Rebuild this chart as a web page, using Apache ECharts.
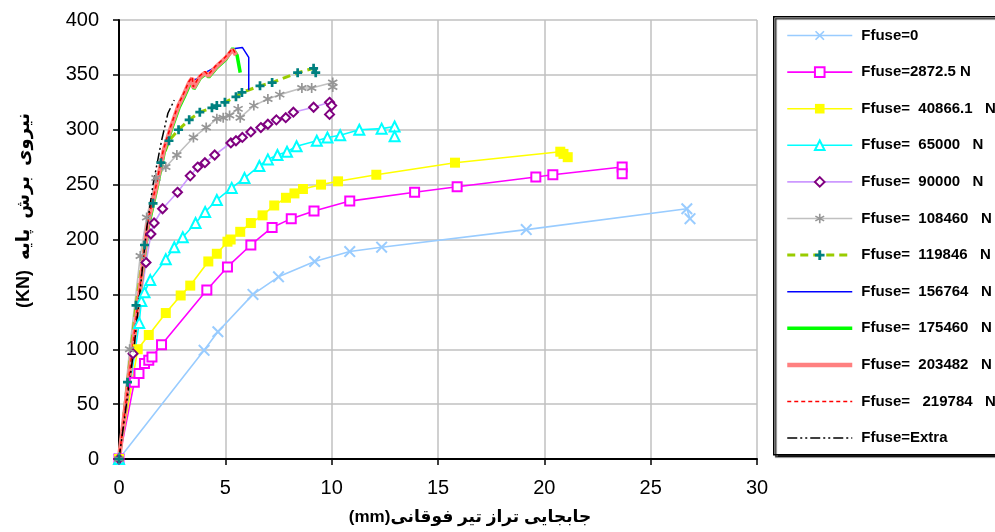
<!DOCTYPE html>
<html><head><meta charset="utf-8">
<script src="https://cdn.jsdelivr.net/npm/echarts@6/dist/echarts.min.js"></script>
<style>html,body{margin:0;padding:0;background:#fff}#c{width:995px;height:532px}</style>
</head><body><div id="c"></div>
<script>
// ---- data (x: displacement mm, y: base shear kN) ----
const seriesNames = ['Ffuse=0','Ffuse=2872.5 N','Ffuse=  40866.1   N','Ffuse=  65000   N','Ffuse=  90000   N','Ffuse=  108460   N','Ffuse=  119846   N','Ffuse=  156764   N','Ffuse=  175460   N','Ffuse=  203482   N','Ffuse=   219784   N','Ffuse=Extra'];
const xTicks = [0,5,10,15,20,25,30];
const yTicks = [0,50,100,150,200,250,300,350,400];
const xTitle = 'جابجایی تراز تیر فوقانی(mm)';
const yTitle = 'نیروی  برش  پایه  (KN)';

const fuse0 = [[0,0],[4.0,99],[4.65,116],[6.3,150],[7.5,166],[9.2,180],[10.85,189],[12.35,193],[19.15,209],[26.7,228],[26.85,219]];
const fuse2872 = [[0,0],[0.72,70],[0.94,78],[1.2,87],[1.4,90],[1.55,93],[2.0,104],[4.13,154],[5.1,175],[6.2,195],[7.2,211],[8.1,219],[9.17,226],[10.85,235],[13.9,243],[15.9,248],[19.6,257],[20.4,259],[23.66,266],[23.66,260]];
const fuse40866 = [[0,0],[0.88,100],[1.4,113],[2.2,133],[2.9,149],[3.35,158],[4.2,180],[4.6,187],[5.1,198],[5.25,200],[5.7,207],[6.2,215],[6.75,222],[7.3,231],[7.85,238],[8.25,242],[8.65,246],[9.5,250],[10.3,253],[12.1,259],[15.8,270],[20.75,280],[20.9,278],[21.1,275]];
const fuse65000 = [[0,0],[0.95,124],[1.05,144],[1.2,152],[1.47,163],[2.2,182],[2.6,193],[3.0,202],[3.6,215],[4.05,225],[4.6,236],[5.3,247],[5.9,256],[6.6,267],[7.0,273],[7.45,277],[7.9,280],[8.35,285],[9.3,290],[9.8,293],[10.4,295],[11.3,300],[12.35,301],[12.96,303],[12.96,294]];
const fuse90000 = [[0,0],[0.66,96],[1.27,179],[1.5,205],[1.65,215],[2.05,228],[2.75,243],[3.35,258],[3.7,266],[4.04,270],[4.5,277],[5.26,288],[5.5,290],[5.8,293],[6.2,298],[6.67,302],[7.0,305],[7.4,309],[7.84,311],[8.2,316],[9.15,320.5],[9.9,325],[10.0,322],[9.9,314]];
const fuse108460 = [[0,0],[0.5,100],[1.0,185],[1.3,220],[1.74,256],[2.2,266],[2.72,277],[3.5,293],[4.1,302],[4.6,310],[4.9,311],[5.2,313],[5.6,319],[5.7,311],[6.34,322],[7.0,328],[7.56,332],[8.6,338],[9.06,338],[10.05,343],[10.05,339]];
const fuse119846 = [[0,0],[0.4,70],[0.8,140],[1.2,195],[1.6,233],[1.97,270],[2.35,290],[2.8,300],[3.3,309],[3.8,316],[4.37,320],[4.6,322],[4.98,325],[5.5,330],[5.78,334],[6.63,340],[7.2,343],[8.4,352],[9.15,356],[9.25,352]];
const fuse156764 = [[0,0],[0.7,110],[1.36,215],[1.74,247],[2.1,281],[2.44,302],[2.8,322],[3.05,332],[3.3,343],[3.8,348],[4.05,352],[4.55,357],[5.0,365],[5.45,374],[5.8,375],[6.1,366],[6.1,336]];
const fuse175460 = [[0,0],[0.7,108],[1.38,212],[1.76,245],[2.12,279],[2.46,300],[2.82,320],[3.07,330],[3.32,341],[3.47,346],[3.52,337],[3.82,347],[4.07,351],[4.22,348],[4.57,356],[5.02,364],[5.35,374],[5.55,368],[5.7,352]];
const fuse203482 = [[0,0],[0.7,110],[1.36,215],[1.74,247],[2.1,281],[2.44,302],[2.8,322],[3.05,332],[3.3,343],[3.45,347],[3.5,338],[3.8,348],[4.05,352],[4.2,349],[4.55,357],[5.0,365],[5.35,373],[5.5,368]];
const fuse219784 = [[0,0],[0.7,111],[1.35,216],[1.73,248],[2.09,282],[2.43,303],[2.79,323],[3.04,333],[3.29,344],[3.44,348],[3.49,339],[3.79,349],[4.04,353],[4.19,350],[4.54,358],[4.99,366],[5.34,374],[5.5,369]];
const fuseExtra = [[0,0],[0.7,100],[1.3,210],[1.6,250],[2.0,290],[2.3,315],[2.6,327]];

// ---- marker shapes ----
const crossPath = 'path://M0,1.2L1.2,0L5,3.8L8.8,0L10,1.2L6.2,5L10,8.8L8.8,10L5,6.2L1.2,10L0,8.8L3.8,5Z';
const starPath = 'path://M4.2,0L5.8,0L5.8,10L4.2,10Z M0.3,3.2L1.1,1.8L9.7,6.8L8.9,8.2Z M1.1,8.2L0.3,6.8L8.9,1.8L9.7,3.2Z';
const plusPath = 'path://M3.5,0H6.5V3.5H10V6.5H6.5V10H3.5V6.5H0V3.5H3.5Z';

function mk(name, data, lineColor, width, type, symbol, symSize, markColor, border) {
  return {
    name: name, type: 'line', data: data, smooth: false,
    symbol: symbol || 'none', symbolSize: symSize || 0,
    lineStyle: {color: lineColor, width: width, type: type || 'solid'},
    itemStyle: {color: markColor || lineColor, borderColor: markColor || lineColor, borderWidth: border || 0},
    emphasis: {disabled: true}
  };
}

const seriesList = [
  mk(seriesNames[0], fuse0, '#99ccff', 1.6, 'solid', crossPath, 12, '#99ccff'),
  mk(seriesNames[1], fuse2872, '#ff00ff', 1.6, 'solid', 'emptyRect', 9, '#ff00ff', 1.5),
  mk(seriesNames[2], fuse40866, '#ffff00', 1.6, 'solid', 'rect', 10, '#ffff00'),
  mk(seriesNames[3], fuse65000, '#00ffff', 1.6, 'solid', 'emptyTriangle', 10, '#00ffff', 1.5),
  mk(seriesNames[4], fuse90000, '#cc99ff', 1.6, 'solid', 'emptyDiamond', 9, '#800080', 1.8),
  mk(seriesNames[5], fuse108460, '#c0c0c0', 1.6, 'solid', starPath, 10, '#969696'),
  mk(seriesNames[6], fuse119846, '#99cc00', 3, [8, 5], plusPath, 9, '#008080'),
  mk(seriesNames[7], fuse156764, '#0000ff', 1.5, 'solid'),
  mk(seriesNames[8], fuse175460, '#00ff00', 3.5, 'solid'),
  mk(seriesNames[9], fuse203482, '#ff8080', 4.5, 'solid'),
  mk(seriesNames[10], fuse219784, '#ff0000', 1.5, [4, 3]),
  mk(seriesNames[11], fuseExtra, '#000000', 1.5, [10, 3, 2, 3, 2, 3])
];

const legendData = seriesList.map(s => {
  const item = {name: s.name, lineStyle: {width: s.lineStyle.width, type: s.lineStyle.type, color: s.lineStyle.color}};
  if (s.symbol === 'none') item.itemStyle = {opacity: 0, color: 'rgba(0,0,0,0)', borderWidth: 0};
  return item;
});

const chart = echarts.init(document.getElementById('c'), null, {renderer: 'canvas'});
const option = {
  animation: false,
  backgroundColor: '#fff',
  grid: {left: 119, right: 238, top: 20, bottom: 73},
  xAxis: {
    type: 'value', min: 0, max: 30, interval: 5,
    name: '\u202B' + xTitle + '\u202C', nameLocation: 'middle', nameGap: 50,
    nameTextStyle: {fontFamily: 'Liberation Sans, DejaVu Sans', fontWeight: 'bold', fontSize: 17, color: '#000', padding: [0, 0, 0, 64]},
    axisLine: {lineStyle: {color: '#000', width: 2}},
    axisTick: {show: true, inside: false, length: 6, lineStyle: {color: '#000', width: 1.5}},
    axisLabel: {color: '#000', fontFamily: 'Liberation Sans', fontSize: 20, margin: 19, formatter: v => xTicks.includes(v) ? String(v) : ''},
    splitLine: {show: true, lineStyle: {color: '#c0c0c0', width: 1.5}}
  },
  yAxis: {
    type: 'value', min: 0, max: 400, interval: 50,
    name: '\u202B' + yTitle + '\u202C', nameLocation: 'middle', nameGap: 86, nameRotate: 90,
    nameTextStyle: {fontFamily: 'Liberation Sans, DejaVu Sans', fontWeight: 'bold', fontSize: 18, color: '#000', padding: [0, 0, 0, 58]},
    axisLine: {show: true, lineStyle: {color: '#000', width: 2}},
    axisTick: {show: true, inside: false, length: 6, lineStyle: {color: '#000', width: 1.5}},
    axisLabel: {color: '#000', fontFamily: 'Liberation Sans', fontSize: 20, margin: 20, formatter: v => yTicks.includes(v) ? String(v) : ''},
    splitLine: {show: true, lineStyle: {color: '#c0c0c0', width: 1.5}}
  },
  graphic: [{
    type: 'rect', left: 773, top: 16, z: 0,
    shape: {width: 240, height: 438},
    style: {fill: '#fff', stroke: '#000', lineWidth: 1.5, shadowColor: 'rgba(0,0,0,0.8)', shadowOffsetX: 2, shadowOffsetY: 2, shadowBlur: 1}
  }],
  legend: {
    orient: 'vertical', left: 785, top: 28, padding: 0,
    itemWidth: 65, itemHeight: 12, itemGap: 21.6,
    selectedMode: false, z: 5,
    textStyle: {fontFamily: 'Liberation Sans', fontWeight: 'bold', fontSize: 15, color: '#000', padding: [0, 0, 0, 4]},
    data: legendData
  },
  series: seriesList
};
chart.setOption(option);
</script>
</body></html>
